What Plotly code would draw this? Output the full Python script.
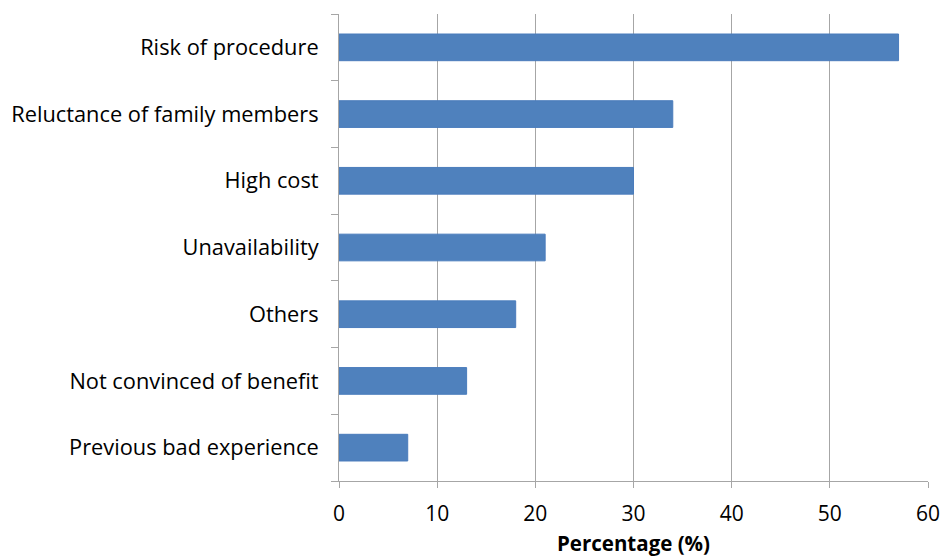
import plotly.graph_objects as go

categories = ["Previous bad experience", "Not convinced of benefit", "Others",
              "Unavailability", "High cost", "Reluctance of family members",
              "Risk of procedure"]
values = [7, 13, 18, 21, 30, 34, 57]
x_ticks = [0, 10, 20, 30, 40, 50, 60]

fig = go.Figure(go.Bar(
    x=values, y=categories, orientation="h",
    marker=dict(color="#4f81bd", line=dict(color="#4a7cbc", width=1)),
))

font_family = "Open Sans, Lato, sans-serif"
fig.update_layout(
    width=942, height=558,
    margin=dict(l=339, r=14, t=14, b=77, autoexpand=False),
    plot_bgcolor="white", paper_bgcolor="white",
    bargap=0.6,
    showlegend=False,
    font=dict(family=font_family, size=21, color="#000000"),
)
fig.update_xaxes(
    range=[0, 60], tickvals=x_ticks, ticktext=[str(v) for v in x_ticks],
    showgrid=True, gridcolor="#a6a6a6", gridwidth=1,
    showline=True, linecolor="#a6a6a6", linewidth=1,
    ticks="outside", ticklen=6, tickcolor="#a6a6a6",
    zeroline=False, automargin=False,
    tickfont=dict(size=21),
    ticklabelstandoff=8,
    title=dict(text="<b>Percentage (%)</b>", font=dict(size=20.5), standoff=10),
)
fig.update_yaxes(
    type="category", categoryorder="array", categoryarray=categories,
    showgrid=False, automargin=False,
    showline=True, linecolor="#a6a6a6", linewidth=1,
    ticks="outside", ticklen=7, tickcolor="#a6a6a6", tickson="boundaries",
    tickfont=dict(size=21.8),
    ticklabelstandoff=15,
)

fig.write_html("out.html")
